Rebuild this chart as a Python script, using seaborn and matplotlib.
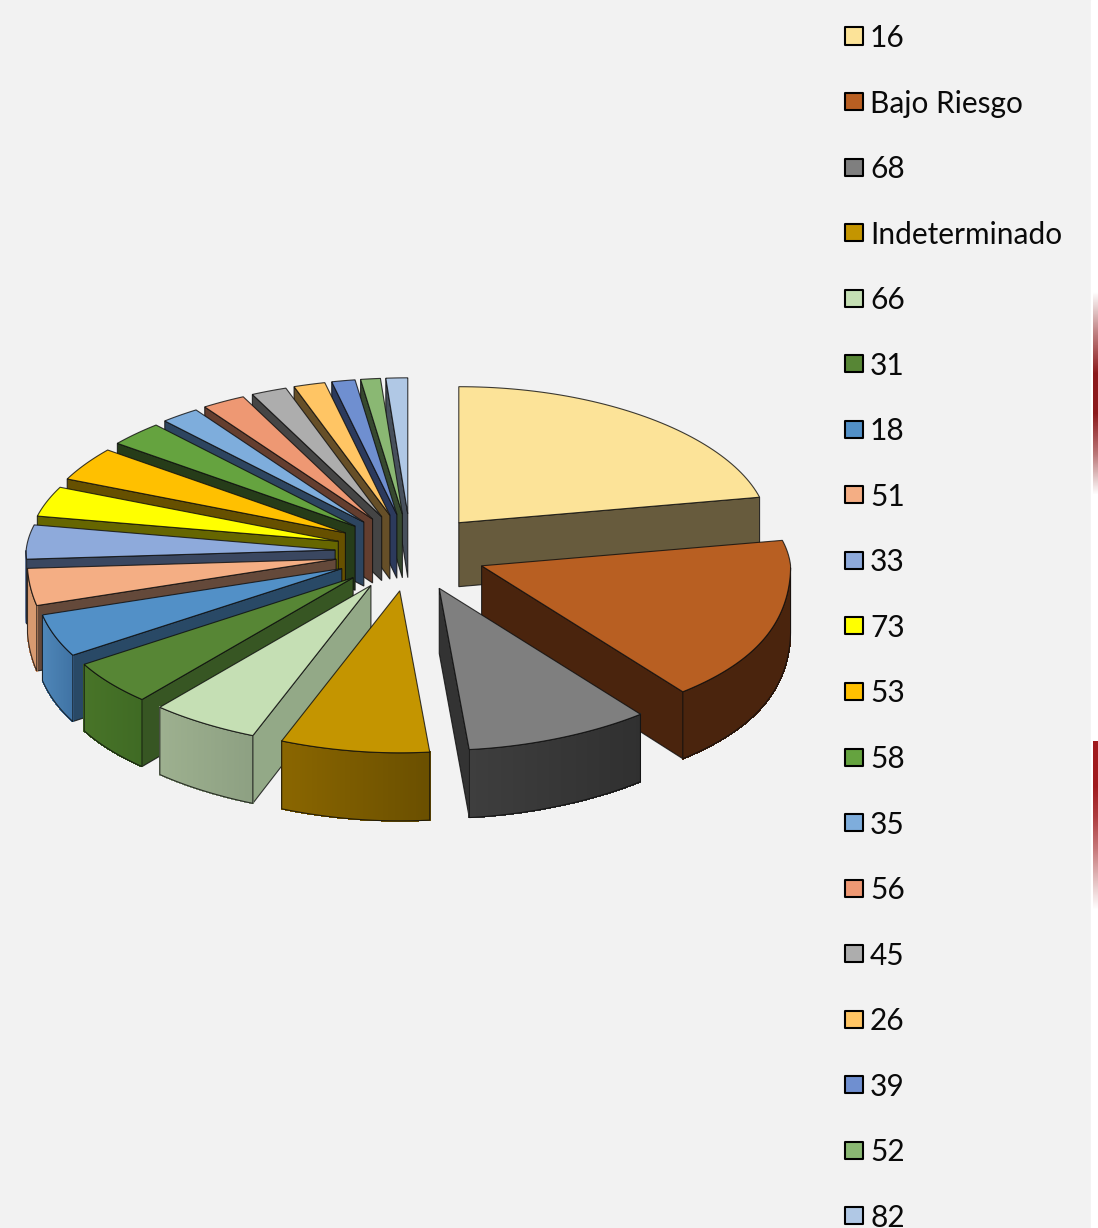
import numpy as np
import pandas as pd
import matplotlib
matplotlib.use("Agg")
import matplotlib.pyplot as plt
from matplotlib.patches import Polygon
from matplotlib.colors import to_rgb
import seaborn as sns

# Series, in the order they run clockwise from twelve o'clock
labels = ["16", "Bajo Riesgo", "68", "Indeterminado", "66", "31", "18", "51", "33",
          "73", "53", "58", "35", "56", "45", "26", "39", "52", "82"]
shares = [22.0, 17.17, 9.28, 7.67, 5.33, 4.56, 4.36, 3.72, 3.86,
          3.53, 3.94, 2.92, 2.08, 2.36, 1.94, 1.72, 1.28, 1.08, 1.19]

# Shades: top face, cut faces, rim (left and right ends of the rim gradient)
top_colors = ["#fce398", "#b85f22", "#7f7f7f", "#c49500", "#c5dfb4", "#578635", "#5290c7",
              "#f4ae84", "#8eaadb", "#ffff00", "#ffc000", "#65a33f", "#7eaddc", "#ee9873",
              "#adadad", "#ffc564", "#6f8fd0", "#8ab873", "#b0c8e5"]
cut_colors = ["#675b3d", "#4a240d", "#333333", "#6a4f00", "#93a987", "#375623", "#294966",
              "#64493a", "#3a4760", "#666600", "#665000", "#263c19", "#2d4560", "#643e2f",
              "#454545", "#664f28", "#2c3a5c", "#37492f", "#47505c"]
rim_left = ["#675b3d", "#4a240d", "#3e3e3e", "#8a6600", "#9db08f", "#487428", "#4e86b8",
            "#d89a70", "#8eaadb", "#ffff00", "#ffc000", "#65a33f", "#7eaddc", "#ee9873",
            "#adadad", "#ffc564", "#6f8fd0", "#8ab873", "#b0c8e5"]
rim_right = ["#675b3d", "#4a240d", "#303030", "#6a4f00", "#8da082", "#3f6a24", "#3f72a3",
             "#d89a70", "#8eaadb", "#ffff00", "#ffc000", "#65a33f", "#7eaddc", "#ee9873",
             "#adadad", "#ffc564", "#6f8fd0", "#8ab873", "#b0c8e5"]

sns.set_theme(style="white", rc={"axes.facecolor": "#f2f2f2", "figure.facecolor": "#f2f2f2"})
plt.rcParams["font.family"] = ["Lato", "DejaVu Sans"]

fig = plt.figure(figsize=(10.98, 12.28), dpi=100)
ax = fig.add_axes([0, 0, 1, 1])
ax.axis("off")
ax.add_patch(plt.Rectangle((0, 0), 1098, 1228, color="#f2f2f2", zorder=0))

# Page margin to the right of the chart, with its two red accents
ax.add_patch(plt.Rectangle((1091, 0), 7, 1228, color="white", zorder=1))
def accent_band(y0, y1, colour, alpha):
    rgba = np.zeros((len(alpha), 1, 4))
    rgba[..., :3] = np.array(to_rgb(colour))
    rgba[:, 0, 3] = alpha
    ax.imshow(rgba, extent=(1093, 1098, y1, y0), aspect="auto", zorder=2, interpolation="bilinear")
accent_band(272, 515, "#8c1a1c", [0.0, 0.55, 1.0, 1.0, 0.6, 0.0])
accent_band(741, 925, "#a01b1e", [1.0, 1.0, 0.85, 0.6, 0.3, 0.0])
ax.set_xlim(0, 1098)
ax.set_ylim(1228, 0)

# Tilted, exploded pie geometry
cx, cy = 410.6, 552.5
ex, ey = 75.6, 38.7
rx, ry_back, ry_front = 309.0, 136.0, 162.0

def depth_at(y):
    return 64 + (y - 524) * 4 / 224

def outer(apex, theta):
    c = np.cos(theta)
    ry = ry_back if c > 0 else ry_front
    if c > 0:
        rx_here = rx - 15 * c  # far side recedes
    else:
        rx_here = rx * (1 + 0.037 * np.sin(2 * theta) ** 2)  # near side bulges
    return apex[0] + rx_here * np.sin(theta), apex[1] - ry * c

def drop(p):
    return p[0], p[1] + depth_at(p[1])

edge = (0.05, 0.05, 0.05, 0.8)
angles = np.cumsum([0] + shares) / sum(shares) * 2 * np.pi
mids = (angles[:-1] + angles[1:]) / 2
z = 10

for i in sorted(range(len(shares)), key=lambda k: -np.cos(mids[k])):
    a0, a1, mid = angles[i], angles[i + 1], mids[i]
    apex = (cx + ex * np.sin(mid), cy - ey * np.cos(mid))
    ts = np.linspace(a0, a1, 60)
    arc = [outer(apex, t) for t in ts]

    # Cut faces that turn toward the viewer
    for ang, visible in ((a0, np.sin(a0) < 0), (a1, np.sin(a1) > 0)):
        if visible:
            p = outer(apex, ang)
            quad = [apex, p, drop(p), drop(apex)]
            ax.add_patch(Polygon(quad, closed=True, facecolor=cut_colors[i], edgecolor=edge,
                                 linewidth=0.8, zorder=z))
            z += 1

    # Curved rim on the near half of the slice, shaded from end to end
    near = [t for t in ts if np.cos(t) <= 0]
    if len(near) > 1:
        pts = [outer(apex, t) for t in near]
        low = [drop(p) for p in pts]
        c0, c1 = np.array(to_rgb(rim_left[i])), np.array(to_rgb(rim_right[i]))
        xs = [p[0] for p in pts]
        xmin, xmax = min(xs), max(xs)
        for j in range(len(pts) - 1):
            f = ((pts[j][0] + pts[j + 1][0]) / 2 - xmin) / max(xmax - xmin, 1)
            col = c0 + (c1 - c0) * f
            ax.add_patch(Polygon([pts[j], pts[j + 1], low[j + 1], low[j]], closed=True,
                                 facecolor=col, edgecolor=col, linewidth=0.6,
                                 antialiased=False, zorder=z))
        z += 1
        ax.add_patch(Polygon(pts + low[::-1], closed=True, fill=False, edgecolor=edge,
                             linewidth=0.8, zorder=z))
        z += 1

    # Top face
    ax.add_patch(Polygon([apex] + arc, closed=True, facecolor=top_colors[i], edgecolor=edge,
                         linewidth=0.8, zorder=z))
    z += 1

# Legend column
legend = pd.DataFrame({"label": labels, "row": np.arange(len(labels))})
legend["x"] = 854.0
legend["y"] = 36 + 65.55 * legend["row"]
sns.scatterplot(data=legend, x="x", y="y", hue="label", hue_order=labels,
                palette=sns.color_palette(top_colors), marker="s", s=150,
                edgecolor="black", linewidth=1.5, legend=False, ax=ax, zorder=z)
for _, row in legend.iterrows():
    ax.text(870, row["y"] - 0.5, row["label"], fontsize=21.5, color="#0a0a0a", va="center_baseline",
            ha="left", zorder=z)
ax.set_xlabel("")
ax.set_ylabel("")

fig.savefig("out.png", dpi=100, facecolor="#f2f2f2")
